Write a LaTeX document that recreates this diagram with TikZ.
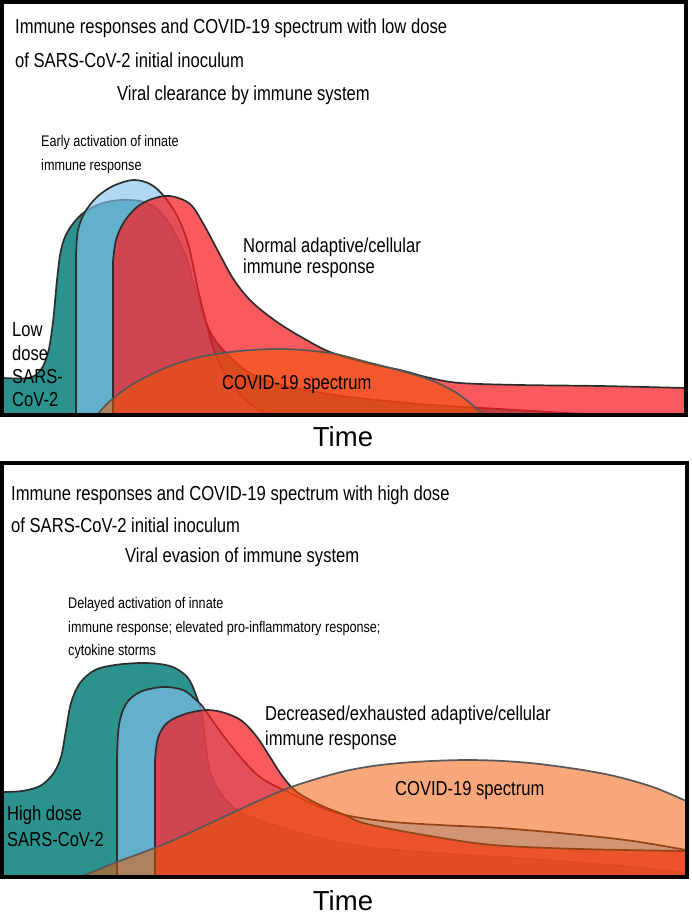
\documentclass[tikz,border=0pt]{standalone}
\usepackage{fontspec}
\setmainfont{Liberation Sans}[FakeStretch=0.82]
\newfontfamily\timefont{Liberation Sans}
\definecolor{tealc}{RGB}{44,146,142}
\definecolor{bluec}{RGB}{131,194,239}
\definecolor{redc}{RGB}{248,30,34}
\definecolor{orangec}{RGB}{242,88,0}
\definecolor{edgec}{RGB}{45,45,45}
\tikzset{
  shapeline/.style={draw=edgec, line width=1.7pt, line join=round},
  tealshape/.style={shapeline, fill=tealc},
  blueshape/.style={shapeline, fill=bluec, fill opacity=0.64},
  redshape/.style={shapeline, fill=redc, fill opacity=0.73},
  orangeshape/.style={shapeline, draw=edgec!80, fill=orangec, fill opacity=0.52},
  panel/.style={draw=black, line width=3.5pt},
  lbl/.style={anchor=west, inner sep=0pt, text=black},
  titlelbl/.style={lbl, font=\fontsize{20.25}{24}\selectfont},
  smallnote/.style={lbl, font=\fontsize{15.4}{18}\selectfont},
  bignote/.style={lbl, font=\fontsize{20.2}{24}\selectfont},
  timelbl/.style={inner sep=0pt, font=\timefont\fontsize{27.5}{31}\selectfont},
  sm/.style={smooth, tension=0.55}
}
\begin{document}
\begin{tikzpicture}[x=1pt,y=-1pt]
\useasboundingbox (0,0) rectangle (691,917);
\fill[white] (0,0) rectangle (691,917);

% ---------------- top panel ----------------
\path[tealshape] (3,415) -- (3,378) -- plot[sm] coordinates {(3,378) (28,378) (40,371) (48,353) (53,322) (57,280) (61,250) (68,231) (82,214) (100,204) (120,200) (140,201) (155,207) (167,220) (177,237) (187,260) (194,285) (202,312) (213,337) (230,357) (250,373) (275,383) (300,389) (350,397) (420,404) (483,408) (550,412) (600,415)} -- cycle;
\path[blueshape] (76,415) -- (76,255) -- plot[sm] coordinates {(76,255) (78,230) (85,212) (97,197) (113,186) (133,180) (150,184) (163,195) (175,212) (183,229) (189,247) (194,270) (199,294) (206,322) (214,350) (224,372) (238,392) (252,405) (268,415)} -- cycle;
\path[redshape] (113,415) -- (113,262) -- plot[sm] coordinates {(113,262) (116,240) (124,222) (137,207) (152,199) (170,196) (190,204) (204,225) (219,253) (234,280) (252,302) (277,322) (303,338) (330,352) (367,363) (400,370) (430,378) (460,383) (520,385) (600,386) (686,388)} -- (686,415) -- cycle;
\path[orangeshape] plot[sm] coordinates {(97,415) (110,401) (133,384) (165,368) (200,357) (240,351) (283,349) (330,353) (367,362) (405,372) (433,381) (455,392) (470,403) (483,415)} -- cycle;

\draw[panel] (2,2) rectangle (686,415);

\node[titlelbl] (t1a) at (15,28) {Immune responses and COVID-19 spectrum with low dose};
\node[titlelbl] (t1b) at (15,60) {of SARS-CoV-2 initial inoculum};
\node[titlelbl] (v1) at (117,95) {Viral clearance by immune system};
\node[smallnote] (e1a) at (41,143) {Early activation of innate};
\node[smallnote] (e1b) at (41,167) {immune response};
\node[bignote] (n1a) at (243,247) {Normal adaptive/cellular};
\node[bignote] (n1b) at (243,268) {immune response};
\node[bignote] (l1a) at (12,330) {Low};
\node[bignote] (l1b) at (12,353.5) {dose};
\node[bignote] (l1c) at (12,377) {SARS-};
\node[bignote] (l1d) at (12,400) {CoV-2};
\node[bignote] (c1) at (222,385) {COVID-19 spectrum};
\node[timelbl] (time1) at (343,437) {Time};

% ---------------- bottom panel ----------------
\path[tealshape] (3,877) -- (3,792) -- plot[sm] coordinates {(3,792) (22,791) (40,786) (53,774) (61,757) (66,730) (71,703) (80,683) (95,670) (115,665) (140,663) (160,664) (175,668) (188,678) (196,695) (202,715) (206,748) (213,780) (233,807) (267,823) (317,837) (360,846) (420,852) (500,857) (570,862) (633,867) (686,873)} -- (686,877) -- cycle;
\path[blueshape] (117,877) -- (117,757) -- plot[sm] coordinates {(117,757) (119,725) (126,704) (140,692) (163,687) (183,690) (195,699) (203,707) (217,727) (237,753) (260,777) (290,793) (333,812) (383,821) (440,825) (500,828) (570,834) (633,841) (686,850)} -- (686,877) -- cycle;
\path[redshape] (155,877) -- (155,760) -- plot[sm] coordinates {(155,760) (158,738) (167,723) (185,714) (207,710) (225,713) (242,721) (257,737) (270,757) (283,777) (297,792) (320,805) (345,815) (367,824) (430,836) (493,845) (580,849) (686,851)} -- (686,877) -- cycle;
\path[orangeshape] plot[sm] coordinates {(80,877) (117,862) (167,843) (217,820) (267,797) (300,784) (350,770) (400,763) (467,760) (530,763) (600,773) (650,786) (686,801)} -- (686,877) -- cycle;

\draw[panel] (2,463) rectangle (687,877);

\node[titlelbl] (t2a) at (11,495) {Immune responses and COVID-19 spectrum with high dose};
\node[titlelbl] (t2b) at (11,525) {of SARS-CoV-2 initial inoculum};
\node[titlelbl] (v2) at (125,557) {Viral evasion of immune system};
\node[smallnote] (d2a) at (68,605) {Delayed activation of innate};
\node[smallnote] (d2b) at (68,628.5) {immune response; elevated pro-inflammatory response;};
\node[smallnote] (d2c) at (68,652) {cytokine storms};
\node[bignote] (x2a) at (265,715) {Decreased/exhausted adaptive/cellular};
\node[bignote] (x2b) at (265,740) {immune response};
\node[bignote] (c2) at (395,791) {COVID-19 spectrum};
\node[bignote] (h2a) at (7,815) {High dose};
\node[bignote] (h2b) at (7,840) {SARS-CoV-2};
\node[timelbl] (time2) at (343,901) {Time};
\end{tikzpicture}
\end{document}
